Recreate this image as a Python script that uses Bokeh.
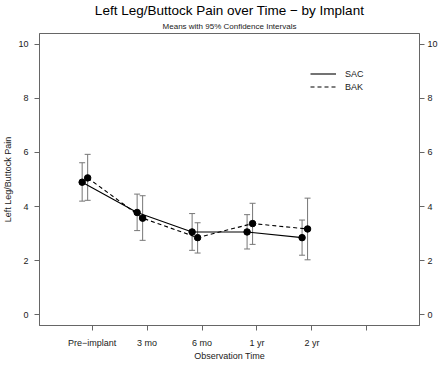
from bokeh.plotting import figure
from bokeh.models import (ColumnDataSource, Whisker, TeeHead, LinearAxis, FixedTicker,
                          Range1d, Legend, LegendItem, Title)
from bokeh.embed import file_html
from bokeh.resources import INLINE

# ---- data ----
time_labels = ["Pre\u2212implant", "3 mo", "6 mo", "1 yr", "2 yr"]
time_index = [1, 2, 3, 4, 5]
sac_mean = [4.90, 3.78, 3.06, 3.06, 2.85]
sac_lower = [4.20, 3.11, 2.38, 2.43, 2.20]
sac_upper = [5.62, 4.46, 3.74, 3.70, 3.50]
bak_mean = [5.06, 3.57, 2.85, 3.37, 3.17]
bak_lower = [4.23, 2.75, 2.28, 2.60, 2.03]
bak_upper = [5.93, 4.40, 3.40, 4.12, 4.31]
y_ticks = [0, 2, 4, 6, 8, 10]

FONT = "Liberation Sans"
AX = "#666666"
TXT = "#1a1a1a"

sac_off, bak_off = -0.18, -0.08
sac_src = ColumnDataSource(dict(x=[t + sac_off for t in time_index], y=sac_mean,
                                lo=sac_lower, hi=sac_upper))
bak_src = ColumnDataSource(dict(x=[t + bak_off for t in time_index], y=bak_mean,
                                lo=bak_lower, hi=bak_upper))

p = figure(width=440, height=363, output_backend="svg", toolbar_location=None,
           x_range=Range1d(0.044, 6.956), y_range=Range1d(-0.4, 10.4),
           x_axis_location=None, y_axis_location=None,
           min_border_left=33, min_border_right=13, min_border_top=27, min_border_bottom=35)
p.xgrid.visible = False
p.ygrid.visible = False
p.outline_line_color = AX
p.outline_line_width = 1
p.background_fill_color = "white"
p.border_fill_color = "white"

# titles: p.title is outermost, added "above" titles sit closer to the frame
p.title.text = "Left Leg/Buttock Pain over Time \u2212 by Implant"
p.title.text_font = FONT
p.title.text_font_size = "13.5px"
p.title.text_font_style = "normal"
p.title.text_color = "black"
p.title.align = "center"
p.title.standoff = 0
p.title.offset = 0
sub = Title(text="Means with 95% Confidence Intervals", align="center",
            text_font=FONT, text_font_size="8px", text_font_style="normal",
            text_color=TXT, standoff=5)
p.add_layout(sub, "above")

def style_axis(ax, size="9px"):
    ax.axis_line_color = AX
    ax.major_tick_line_color = AX
    ax.minor_tick_line_color = None
    ax.major_tick_out = 5
    ax.major_tick_in = 0
    ax.major_label_text_font = FONT
    ax.major_label_text_font_size = size
    ax.major_label_text_color = TXT
    ax.axis_label_text_font = FONT
    ax.axis_label_text_font_size = "9px"
    ax.axis_label_text_font_style = "normal"
    ax.axis_label_text_color = TXT

yl = LinearAxis(ticker=FixedTicker(ticks=y_ticks), axis_label="Left Leg/Buttock Pain")
style_axis(yl)
yl.major_label_standoff = 6
yl.axis_label_standoff = 2
p.add_layout(yl, "left")

yr = LinearAxis(ticker=FixedTicker(ticks=y_ticks))
style_axis(yr)
yr.major_label_standoff = 3
yr.axis_label_standoff = 0
p.add_layout(yr, "right")

xb = LinearAxis(ticker=FixedTicker(ticks=time_index + [6]), axis_label="Observation Time")
style_axis(xb)
xb.major_label_overrides = {**{t: l for t, l in zip(time_index, time_labels)}, 6: ""}
xb.major_label_standoff = 7
xb.axis_label_standoff = 0
p.add_layout(xb, "below")

# error bars
for src in (sac_src, bak_src):
    w = Whisker(source=src, base="x", lower="lo", upper="hi", line_color="#777777", line_width=1,
                upper_head=TeeHead(size=6, line_color="#777777", line_width=1),
                lower_head=TeeHead(size=6, line_color="#777777", line_width=1))
    p.add_layout(w)

l_sac = p.line("x", "y", source=sac_src, line_color="black", line_width=1.1)
l_bak = p.line("x", "y", source=bak_src, line_color="black", line_width=1.1, line_dash="4 3")
p.scatter("x", "y", source=sac_src, size=6.5, color="black")
p.scatter("x", "y", source=bak_src, size=6.5, color="black")

legend = Legend(items=[LegendItem(label="SAC", renderers=[l_sac]),
                       LegendItem(label="BAK", renderers=[l_bak])],
                location=(271, 232), padding=0, margin=0, spacing=0,
                glyph_width=26, glyph_height=13, label_height=13, label_standoff=9,
                label_text_font=FONT, label_text_font_size="9px", label_text_color=TXT,
                border_line_alpha=0, background_fill_alpha=0)
p.add_layout(legend)

open("out.html", "w").write(file_html(p, INLINE))
